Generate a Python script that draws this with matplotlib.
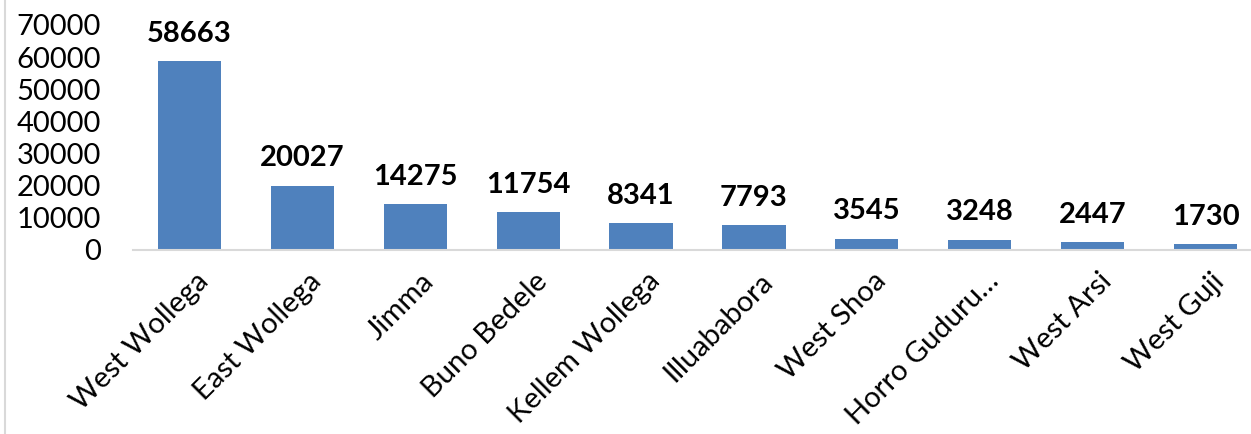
import matplotlib.pyplot as plt
from matplotlib.lines import Line2D

zones = ['West Wollega', 'East Wollega', 'Jimma', 'Buno Bedele', 'Kellem Wollega',
         'Illuababora', 'West Shoa', 'Horro Guduru\u2026', 'West Arsi', 'West Guji']
cases = [58663, 20027, 14275, 11754, 8341, 7793, 3545, 3248, 2447, 1730]
yticks = [0, 10000, 20000, 30000, 40000, 50000, 60000, 70000]

plt.rcParams['font.family'] = ['Lato', 'DejaVu Sans']

fig = plt.figure(figsize=(12.51, 4.34), dpi=100)
ax = fig.add_axes([133 / 1251, 1 - 250 / 434, 1 - 133 / 1251, 225 / 434])

x = list(range(len(zones)))
ax.bar(x, cases, width=0.56, color='#4F81BD', zorder=2)
for xi, v in zip(x, cases):
    ax.annotate(str(v), (xi, v), xytext=(0, 14), textcoords='offset points',
                ha='center', va='baseline', fontsize=21, fontweight='bold',
                clip_on=False)

ax.set_xlim(-0.5, 9.5 - 11 / 112.9)
ax.set_ylim(0, 70000)
ax.set_yticks(yticks)
ax.set_yticklabels([str(t) for t in yticks], fontsize=21)
ax.set_xticks([xi + 0.05 for xi in x])
ax.set_xticklabels(zones, rotation=45, ha='right', rotation_mode='anchor', fontsize=21)
ax.tick_params(axis='y', length=0, pad=23)
ax.tick_params(axis='x', length=0, pad=13)

for s in ['top', 'right', 'left']:
    ax.spines[s].set_visible(False)
ax.spines['bottom'].set_color('#D9D9D9')
ax.spines['bottom'].set_linewidth(1.5)

fig.add_artist(Line2D([4.5 / 1251, 4.5 / 1251], [0, 1], color='#D9D9D9', lw=1.5))

fig.savefig('out.png', dpi=100)
